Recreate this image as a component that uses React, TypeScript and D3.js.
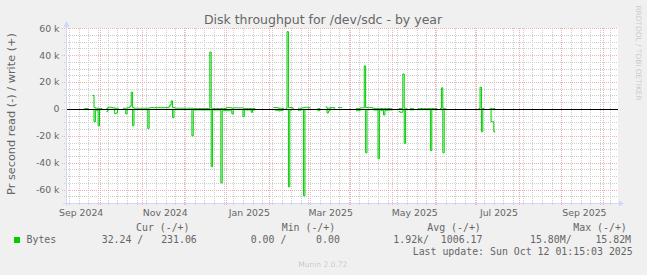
import React from "react";
import * as d3 from "d3";

const WIDTH = 647;
const HEIGHT = 275;
const RANGE_START = "2024-09-07T01:15:03Z";
const RANGE_END = "2025-10-12T01:15:03Z";
const DAY0 = "2024-09-07T00:00:00Z";

// Daily data (1 value per day), split in segments of contiguous days (gaps = no data)
const segmentStartDays = [13, 19, 29, 41, 150, 159, 168, 182, 188, 197, 210, 241, 249, 255, 271, 299, 307];

// write (+), in thousands of bytes / s
const writesK = [
  [0.3, 0.3, 0.3],
  [10, 1, 0.5, 0.5, 0.5, 0.3, 0.3],
  [0.3, 1.2, 1.2, 1.2, 1.0, 0.8, 0.5, 0.5, 0.5],
  [
    0.5, 0.5, 0.5, 0.8, 1, 2, 12.5, 1, 0.5, 0.5,
    0.5, 0.5, 0.5, 0.5, 0.5, 0.5, 0.5, 0.5, 0.5, 0.8,
    1, 1, 1, 1, 1, 1, 1, 1, 1, 1,
    1, 1, 1, 1.5, 3, 6, 1, 0.8, 0.5, 0.5,
    0.5, 0.5, 0.5, 0.5, 0.5, 0.5, 0.5, 0.5, 0.5, 0.5,
    0.5, 0.3, 0.3, 0.3, 0.3, 0.3, 0.3, 0.3, 0.3, 0.3,
    0.3, 0.3, 0.3, 42.3, 0.5, 0.3, 0.3, 0.3, 0.3, 0.3,
    0.3, 0.3, 0.3, 0.3, 0.3, 1, 1, 1, 0.8, 0.5,
    0.8, 0.8, 0.8, 0.8, 0.8, 0.8, 0.8, 0.5, 0.3, 0.3,
    0.3, 0.3, 0.3, 0.3, 0.3, 0.3,
  ],
  [1, 1, 1, 0.8, 0.5, 0.5, 0.5, 0.5],
  [0.5, 57.5, 1, 1, 1, 0.5],
  [0.5, 0.5, 0.5, 0.8, 1, 1.2, 1.2, 1.2, 1],
  [0.3, 0.3],
  [1.5, 0.5, 0.5, 0.8, 1, 1, 0.8],
  [1, 1, 1],
  [
    0.3, 0.3, 0.3, 0.8, 0.8, 0.8, 32, 1, 1, 1,
    1, 1, 0.5, 0.5, 0.3, 0.3, 0.3, 0.3, 0.3, 0.3,
    0.3, 0.3, 0.3, 0.3, 0.3, 0.3,
  ],
  [0.3, 0.3, 0.3, 26, 0.5, 0.5],
  [0.3, 0.3, 0.3],
  [0.3, 0.3, 0.3, 0.3, 0.3, 0.3, 0.3, 0.3, 0.3, 0.3, 0.3, 0.3, 0.3, 0.3],
  [0.3, 15.7, 0.5, 0.3],
  [0.3, 16.2, 0.3, 0.3],
  [0.5, 0.3, 0.3, 0.3],
];

// read (-), in thousands of bytes / s (drawn negative)
const readsK = [
  [0.3, 0.3, 0.3],
  [0.5, 9.5, 1, 1, 12.5, 0.5, 0.3],
  [2, 0.5, 0.3, 0.3, 0.3, 0.5, 3.5, 3, 0.5],
  [
    0.3, 0.3, 3.7, 0.5, 0.3, 0.3, 0.3, 12.5, 0.5, 0.5,
    0.5, 0.5, 0.5, 0.5, 0.5, 0.5, 0.5, 0.5, 14.5, 0.5,
    0.3, 0.3, 0.3, 0.3, 0.3, 0.3, 0.3, 0.3, 0.3, 0.3,
    0.3, 0.3, 0.3, 0.3, 0.3, 0.3, 6.5, 0.5, 0.5, 0.5,
    0.5, 0.5, 0.5, 0.5, 0.5, 0.5, 0.5, 0.5, 0.5, 0.5,
    20, 0.7, 0.7, 0.7, 0.7, 0.7, 0.7, 0.7, 0.7, 0.7,
    0.7, 0.7, 0.7, 0.7, 43, 0.7, 0.7, 0.7, 0.7, 0.7,
    0.7, 55, 1.3, 1.3, 1.3, 1.3, 1.3, 1.3, 1.3, 3.7,
    0.5, 0.5, 0.5, 0.5, 0.5, 0.5, 0.5, 5.7, 0.7, 0.7,
    0.7, 0.7, 0.7, 2.5, 0.7, 0.7,
  ],
  [0.5, 0.8, 1, 0.8, 1.5, 0.8, 1.2, 0.5],
  [0.5, 0.5, 58, 1, 0.5, 0.5],
  [1, 1, 0.5, 0.5, 64.7, 0.5, 0.3, 0.3, 0.3],
  [1.3, 1.3],
  [0.5, 3, 1.5, 0.3, 0.3, 0.3, 0.3],
  [0.5, 0.5, 0.5],
  [
    1.3, 1.3, 1.3, 0.5, 0.5, 0.5, 0.5, 32.6, 0.5, 0.5,
    0.5, 0.5, 0.5, 0.8, 0.8, 0.8, 37, 0.8, 1, 1,
    4.5, 1, 1, 0.8, 0.8, 0.8,
  ],
  [2, 2.5, 2.5, 0.5, 25.6, 0.5],
  [0.7, 0.7, 0.7],
  [0.5, 0.5, 0.5, 0.5, 0.5, 0.5, 0.5, 0.5, 0.5, 31, 0.5, 0.5, 0.5, 0.5],
  [0.3, 0.3, 32.6, 0.3],
  [0.3, 0.3, 17, 0.3],
  [0.3, 9.5, 9.5, 17],
];

const yTickValues = [60000, 40000, 20000, 0, -20000, -40000, -60000];
const yTickLabels = ["60 k", "40 k", "20 k", "0", "-20 k", "-40 k", "-60 k"];
const xLabelDates = ["2024-09-01", "2024-11-01", "2025-01-01", "2025-03-01", "2025-05-01", "2025-07-01", "2025-09-01"];
const xLabelTexts = ["Sep 2024", "Nov 2024", "Jan 2025", "Mar 2025", "May 2025", "Jul 2025", "Sep 2025"];

const title = "Disk throughput for /dev/sdc - by year";
const yAxisTitle = "Pr second read (-) / write (+)";
const sideText = "RRDTOOL / TOBI OETIKER";
const footer = "Munin 2.0.72";
const legendName = "Bytes";
const legendHeaders = ["Cur (-/+)", "Min (-/+)", "Avg (-/+)", "Max (-/+)"];
const legendValues = ["32.24 /   231.06", "0.00 /     0.00", "1.92k/  1006.17", "15.80M/    15.82M"];
const lastUpdate = "Last update: Sun Oct 12 01:15:03 2025";

const SERIES_COLOR = "#00CC00";

export default function App() {
  const left = 67;
  const right = 618;
  const top = 28;
  const bottom = 203;

  const x = d3
    .scaleUtc()
    .domain([new Date(RANGE_START), new Date(RANGE_END)])
    .range([66.5, 618]);
  const y = d3.scaleLinear().domain([-70000, 60000]).range([203, 28.3]);
  const snap = (v: number) => Math.round(v) + 0.5;

  const day0 = new Date(DAY0);
  const dayDate = (i: number) => d3.utcDay.offset(day0, i);

  const line = d3
    .line<[number, number]>()
    .x((d) => d[0])
    .y((d) => d[1])
    .curve(d3.curveStepAfter);

  const buildPath = (start: number, vals: number[], sign: number) => {
    const pts: [number, number][] = vals.map((v, k) => [x(dayDate(start + k)), y(sign * v * 1000)]);
    pts.push([x(dayDate(start + vals.length)), y(sign * vals[vals.length - 1] * 1000)]);
    return line(pts) || "";
  };

  const [d0, d1] = x.domain();
  const weeks = d3.utcMonday.range(d0, d1);
  const months = d3.utcMonth.range(d0, d1);
  const minorY = d3.range(-65000, 60001, 5000).filter((v) => v % 20000 !== 0);

  const fontSans = "'DejaVu Sans', sans-serif";
  const fontMono = "'DejaVu Sans Mono', monospace";
  const fontColor = "#666666";
  const axisColor = "#CFD6F8";
  const zeroY = snap(y(0));

  return (
    <svg
      width={WIDTH}
      height={HEIGHT}
      style={{ position: "absolute", left: 0, top: 0, display: "block" }}
      xmlns="http://www.w3.org/2000/svg"
    >
      <rect x={0} y={0} width={WIDTH} height={HEIGHT} fill="#F0F0F0" />
      <rect x={left} y={top} width={right - left} height={bottom - top} fill="#FFFFFF" />

      {/* minor grid */}
      <g stroke="#CDCDCD" strokeWidth={1} strokeDasharray="1,1" shapeRendering="crispEdges">
        {minorY.map((v) => (
          <line key={"my" + v} x1={64} x2={right} y1={snap(y(v))} y2={snap(y(v))} />
        ))}
        {weeks.map((w) => (
          <line key={"mx" + w.getTime()} x1={snap(x(w))} x2={snap(x(w))} y1={top} y2={bottom + 2} />
        ))}
      </g>
      {/* major grid */}
      <g stroke="#F0AEAE" strokeWidth={1} strokeDasharray="1,1" shapeRendering="crispEdges">
        {yTickValues.map((v) => (
          <line key={"My" + v} x1={62} x2={right} y1={snap(y(v))} y2={snap(y(v))} />
        ))}
        {months.map((m) => (
          <line key={"Mx" + m.getTime()} x1={snap(x(m))} x2={snap(x(m))} y1={top} y2={bottom + 3} />
        ))}
      </g>

      {/* data */}
      <g fill="none" stroke={SERIES_COLOR} strokeWidth={1}>
        {segmentStartDays.map((s, i) => (
          <path key={"w" + i} d={buildPath(s, writesK[i], 1)} />
        ))}
        {segmentStartDays.map((s, i) => (
          <path key={"r" + i} d={buildPath(s, readsK[i], -1)} />
        ))}
      </g>

      {/* zero line */}
      <line x1={left} x2={right} y1={zeroY} y2={zeroY} stroke="#000000" strokeWidth={1} shapeRendering="crispEdges" />

      {/* axes */}
      <g stroke={axisColor} strokeWidth={1} shapeRendering="crispEdges">
        <line x1={66.5} x2={66.5} y1={24} y2={bottom + 3} />
        <line x1={63} x2={620} y1={snap(bottom)} y2={snap(bottom)} />
      </g>
      <path d={`M${66.5 - 3},27 L${66.5 + 3},27 L66.5,21 Z`} fill={axisColor} />
      <path d={`M619,${snap(bottom) - 3} L619,${snap(bottom) + 3} L624,${snap(bottom)} Z`} fill={axisColor} />

      {/* y tick labels */}
      <g fontFamily={fontSans} fontSize={9.33} fill={fontColor} textAnchor="end">
        {yTickValues.map((v, i) => (
          <text key={"yl" + v} x={59.5} y={y(v) + 3.4}>
            {yTickLabels[i]}
          </text>
        ))}
      </g>

      {/* x tick labels */}
      <g fontFamily={fontSans} fontSize={9.33} fill={fontColor} textAnchor="middle">
        {xLabelDates.map((ds, i) => (
          <text key={"xl" + ds} x={x(new Date(ds + "T00:00:00Z")) + 23} y={215.5}>
            {xLabelTexts[i]}
          </text>
        ))}
      </g>

      {/* title */}
      <text x={323} y={23.5} fontFamily={fontSans} fontSize={12.5} fill={fontColor} textAnchor="middle">
        {title}
      </text>

      {/* y axis title */}
      <text
        transform="translate(14.5,114) rotate(-90)"
        fontFamily={fontSans}
        fontSize={11.3}
        fill={fontColor}
        textAnchor="middle"
      >
        {yAxisTitle}
      </text>

      {/* side watermark */}
      <text
        transform="translate(635.5,53) rotate(90)"
        fontFamily={fontSans}
        fontSize={7.4}
        fill="#666666"
        fillOpacity={0.3}
        textAnchor="middle"
      >
        {sideText}
      </text>

      {/* legend */}
      <g fontFamily={fontMono} fontSize={9.9} fill={fontColor} style={{ whiteSpace: "pre" }}>
        {legendHeaders.map((h, i) => (
          <text key={"lh" + i} x={[136, 281.7, 427.3, 573.3][i]} y={230.7} xmlSpace="preserve">
            {h}
          </text>
        ))}
        <rect x={14} y={237} width={6} height={6} fill={SERIES_COLOR} />
        <text x={26.5} y={242.5}>
          {legendName}
        </text>
        {legendValues.map((v, i) => (
          <text key={"lv" + i} x={[101.7, 250.7, 393.3, 530][i]} y={242.5} xmlSpace="preserve">
            {v}
          </text>
        ))}
        <text x={632.7} y={254.5} textAnchor="end" xmlSpace="preserve">
          {lastUpdate}
        </text>
      </g>

      <text x={322.8} y={267} fontFamily={fontSans} fontSize={7.5} fill="#666666" fillOpacity={0.3} textAnchor="middle">
        {footer}
      </text>
    </svg>
  );
}
